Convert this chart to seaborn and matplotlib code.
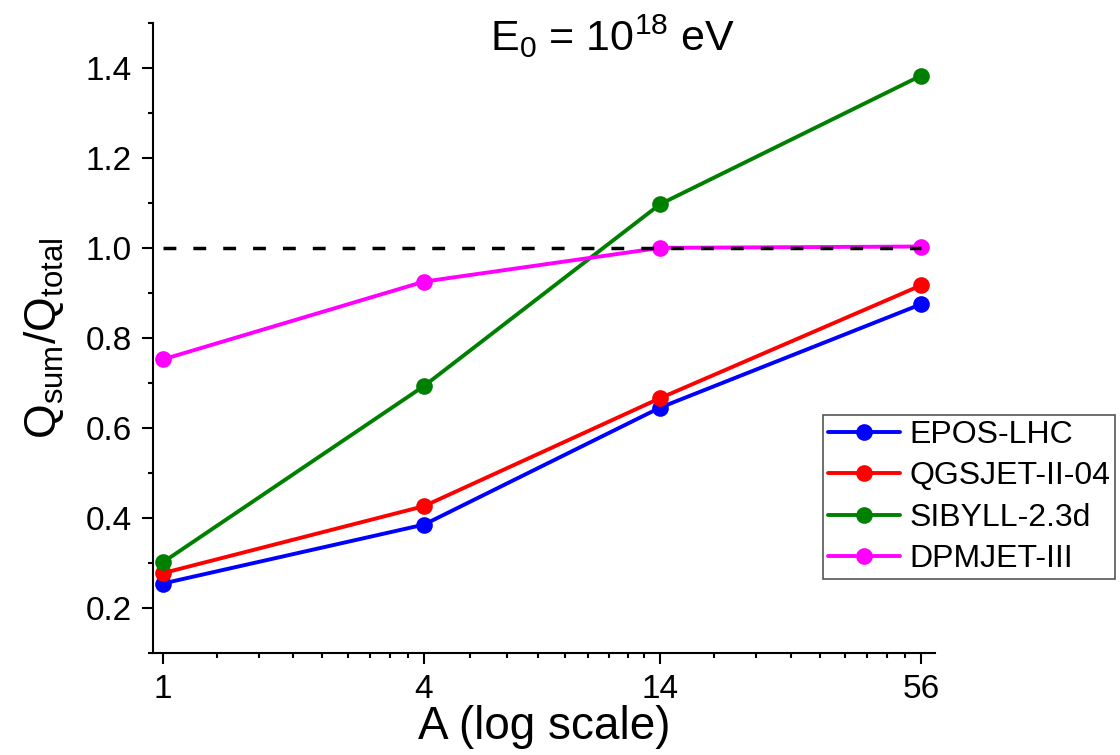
import numpy as np
import pandas as pd
import matplotlib
matplotlib.use("Agg")
import matplotlib.pyplot as plt
from matplotlib.lines import Line2D
from matplotlib.ticker import FixedLocator, MultipleLocator, NullFormatter
import seaborn as sns

# ---- data ----
mass_numbers = [1, 4, 14, 56]
models = ["EPOS-LHC", "QGSJET-II-04", "SIBYLL-2.3d", "DPMJET-III"]
epos = [0.255, 0.386, 0.646, 0.876]
qgsjet = [0.278, 0.427, 0.667, 0.918]
sibyll = [0.302, 0.694, 1.098, 1.384]
dpmjet = [0.753, 0.926, 1.001, 1.004]
colors = ["#0000ff", "#ff0000", "#008000", "#ff00ff"]
ref_x = [1, 56]
ref_y = [1.0, 1.0]
x_tick_labels = ["1", "4", "14", "56"]
y_ticks = [0.2, 0.4, 0.6, 0.8, 1.0, 1.2, 1.4]
y_tick_labels = ["0.2", "0.4", "0.6", "0.8", "1.0", "1.2", "1.4"]

df = pd.DataFrame({
    "A": mass_numbers * 4,
    "Q": epos + qgsjet + sibyll + dpmjet,
    "model": sum([[m] * 4 for m in models], []),
})

sns.set_theme(style="ticks")
plt.rcParams["font.family"] = ["Liberation Sans", "DejaVu Sans"]
plt.rcParams["mathtext.fontset"] = "custom"
plt.rcParams["mathtext.rm"] = "Liberation Sans"
plt.rcParams["mathtext.it"] = "Liberation Sans:italic"
plt.rcParams["mathtext.bf"] = "Liberation Sans:bold"
for k in ["text.color", "axes.labelcolor", "xtick.color", "ytick.color",
          "axes.edgecolor"]:
    plt.rcParams[k] = "black"

fig = plt.figure(figsize=(11.2, 7.55), dpi=100)
ax = fig.add_axes([0.1363, 0.1347, 0.6985, 0.8344])

sns.lineplot(data=df, x="A", y="Q", hue="model", hue_order=models,
             palette=colors, marker="o", markersize=12, markeredgewidth=0,
             linewidth=2.8, legend=False, ax=ax, zorder=3)

ax.plot(ref_x, ref_y, color="black", linewidth=2.5,
        linestyle=(0, (3.7, 4.9)), zorder=4)

ax.set_xscale("log")
ax.set_xlim(0.948, 60.2)
ax.set_ylim(0.1, 1.5)

ax.xaxis.set_major_locator(FixedLocator(mass_numbers))
ax.set_xticklabels(x_tick_labels)
minor = []
for a, b in zip(mass_numbers[:-1], mass_numbers[1:]):
    minor.extend(np.linspace(a, b, 10)[1:-1])
ax.xaxis.set_minor_locator(FixedLocator(minor))
ax.xaxis.set_minor_formatter(NullFormatter())

ax.yaxis.set_major_locator(FixedLocator(y_ticks))
ax.yaxis.set_minor_locator(MultipleLocator(0.1))
ax.set_yticklabels(y_tick_labels)

for s in ["top", "right"]:
    ax.spines[s].set_visible(False)
for s in ["left", "bottom"]:
    ax.spines[s].set_linewidth(1.5)
    ax.spines[s].set_color("black")

ax.tick_params(which="major", length=8, width=1.5, labelsize=24, pad=7,
               colors="black", direction="out")
ax.tick_params(which="minor", length=3.5, width=1.5, direction="out", colors="black")

ax.set_xlabel("A (log scale)", fontsize=33, labelpad=0)
ax.set_ylabel(r"Q$_{\mathregular{sum}}$/Q$_{\mathregular{total}}$", fontsize=32, labelpad=14)

ax.text(0.588, 0.9565, r"E$_{\mathregular{0}}$ = 10$^{\mathregular{18}}$ eV",
        transform=ax.transAxes, ha="center", va="baseline", fontsize=31)

handles = [Line2D([], [], color=c, marker="o", markersize=12, markeredgewidth=0,
                  linewidth=2.8) for c in colors]
leg = fig.legend(handles, models, loc="upper left",
                 bbox_to_anchor=(0.7351, 0.4503), fontsize=23,
                 frameon=True, fancybox=False, framealpha=1,
                 edgecolor="#555555", borderpad=0.15, labelspacing=0.36,
                 handlelength=2.25, handletextpad=0.3, borderaxespad=0)
leg.get_frame().set_linewidth(1.2)

fig.savefig("out.png", dpi=100)
